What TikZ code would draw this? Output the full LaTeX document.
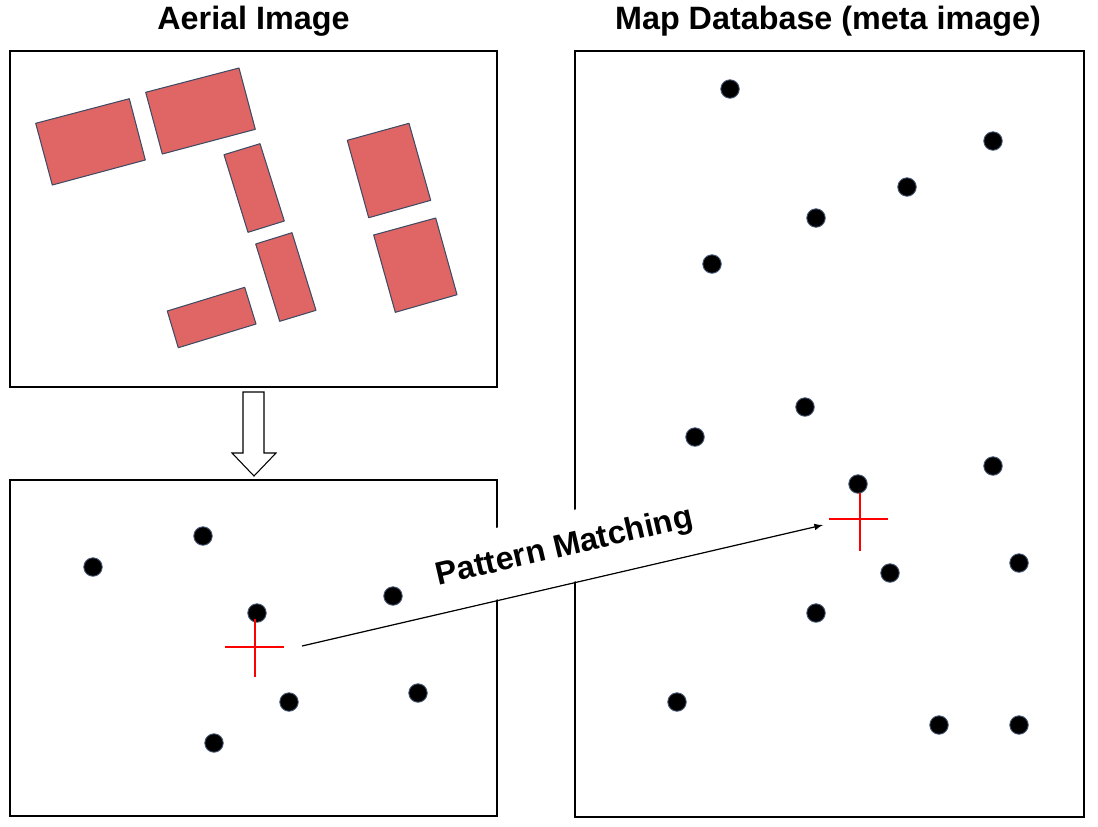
\documentclass[tikz,border=0pt]{standalone}
\usepackage{fontspec}
\setmainfont{Liberation Sans}
\setsansfont{Liberation Sans}
\usetikzlibrary{positioning}
\definecolor{roof}{HTML}{E06666}
\definecolor{roofline}{HTML}{3F4B63}
\definecolor{spotline}{HTML}{4A5A78}

\begin{document}
\begin{tikzpicture}[x=0.02cm,y=-0.02cm,>=latex,font=\sffamily\bfseries\fontsize{18.4}{21}\selectfont,
	panel/.style={minimum width=9.74cm,minimum height=6.72cm,outer sep=0pt,inner sep=0pt,draw=black,line width=0.8pt,anchor=north west},
	house/.style={fill=roof,draw=roofline,line width=0.6pt,line join=round},
	spot/.style={circle,minimum size=0.37cm,inner sep=0pt,fill=black,draw=spotline,line width=0.5pt},
	cross/.style={red,line width=0.6pt}]
	\useasboundingbox (0,0) rectangle (1098,826);
	\node [panel] at (10,51) (aerial) {};
	\node [panel] at (10,480) (matched) {};
	\node [panel,minimum width=10.18cm,minimum height=15.32cm] at (575,51) (mapdb) {};
	\node [anchor=base] at (253.5,29) (aerialtitle) {Aerial Image};
	\node [anchor=base] at (828,29) (mapdbtitle) {Map Database (meta image)};
	\draw [house] (35.7,123.3) -- (129.3,98.7) -- (145.3,160) -- (52.3,185) -- cycle;
	\draw [house] (145.7,92.3) -- (239,68) -- (255.3,129.3) -- (162.3,154) -- cycle;
	\draw [house] (224,154.7) -- (260,143.7) -- (284.3,221) -- (248,232.3) -- cycle;
	\draw [house] (255.7,244) -- (292,232.7) -- (316,310.3) -- (279.7,321.3) -- cycle;
	\draw [house] (167.3,311) -- (244.7,287.3) -- (256,324) -- (178.3,347.7) -- cycle;
	\draw [house] (347.3,140.3) -- (409,123.3) -- (430.7,200.3) -- (368.7,217.7) -- cycle;
	\draw [house] (373.7,235) -- (435.7,218) -- (457,294.7) -- (395.3,312.3) -- cycle;
	\draw [fill=white,line width=0.6pt] (243,392) -- (264,392) -- (264,453) -- (276,453) -- (254,476) -- (232,453) -- (243,453) -- cycle;
	\foreach \x/\y [count=\i] in {93/567,203/536,257/613,393/596,418/693,289/702,214/743}
		\node [spot] (l\i) at (\x,\y) {};
	\foreach \x/\y [count=\i] in {730/89,993/141,907/187,816/218,712/264,805/407,695/437,993/466,858/484,1019/563,890/573,816/613,677/702,939/725,1019/725}
		\node [spot] (r\i) at (\x,\y) {};
	\coordinate (crossL) at (255,647);
	\coordinate (crossR) at (860,519);
	\draw [cross] (crossL) +(-30,0) -- +(29,0) (crossL) +(0,-28) -- +(0,30);
	\draw [cross] (crossR) +(-31,0) -- +(28,0) (crossR) +(0,-26) -- +(0,32);
	\coordinate (pmstart) at (302,646);
	\coordinate (pmend) at (823,525);
	\draw [->,line width=0.7pt] (pmstart) -- node [pos=0.52,sloped,above=0.3pt,fill=white,minimum height=1.4cm,inner xsep=3pt,inner ysep=0pt] (pmlabel) {Pattern Matching} (pmend);
\end{tikzpicture}
\end{document}
